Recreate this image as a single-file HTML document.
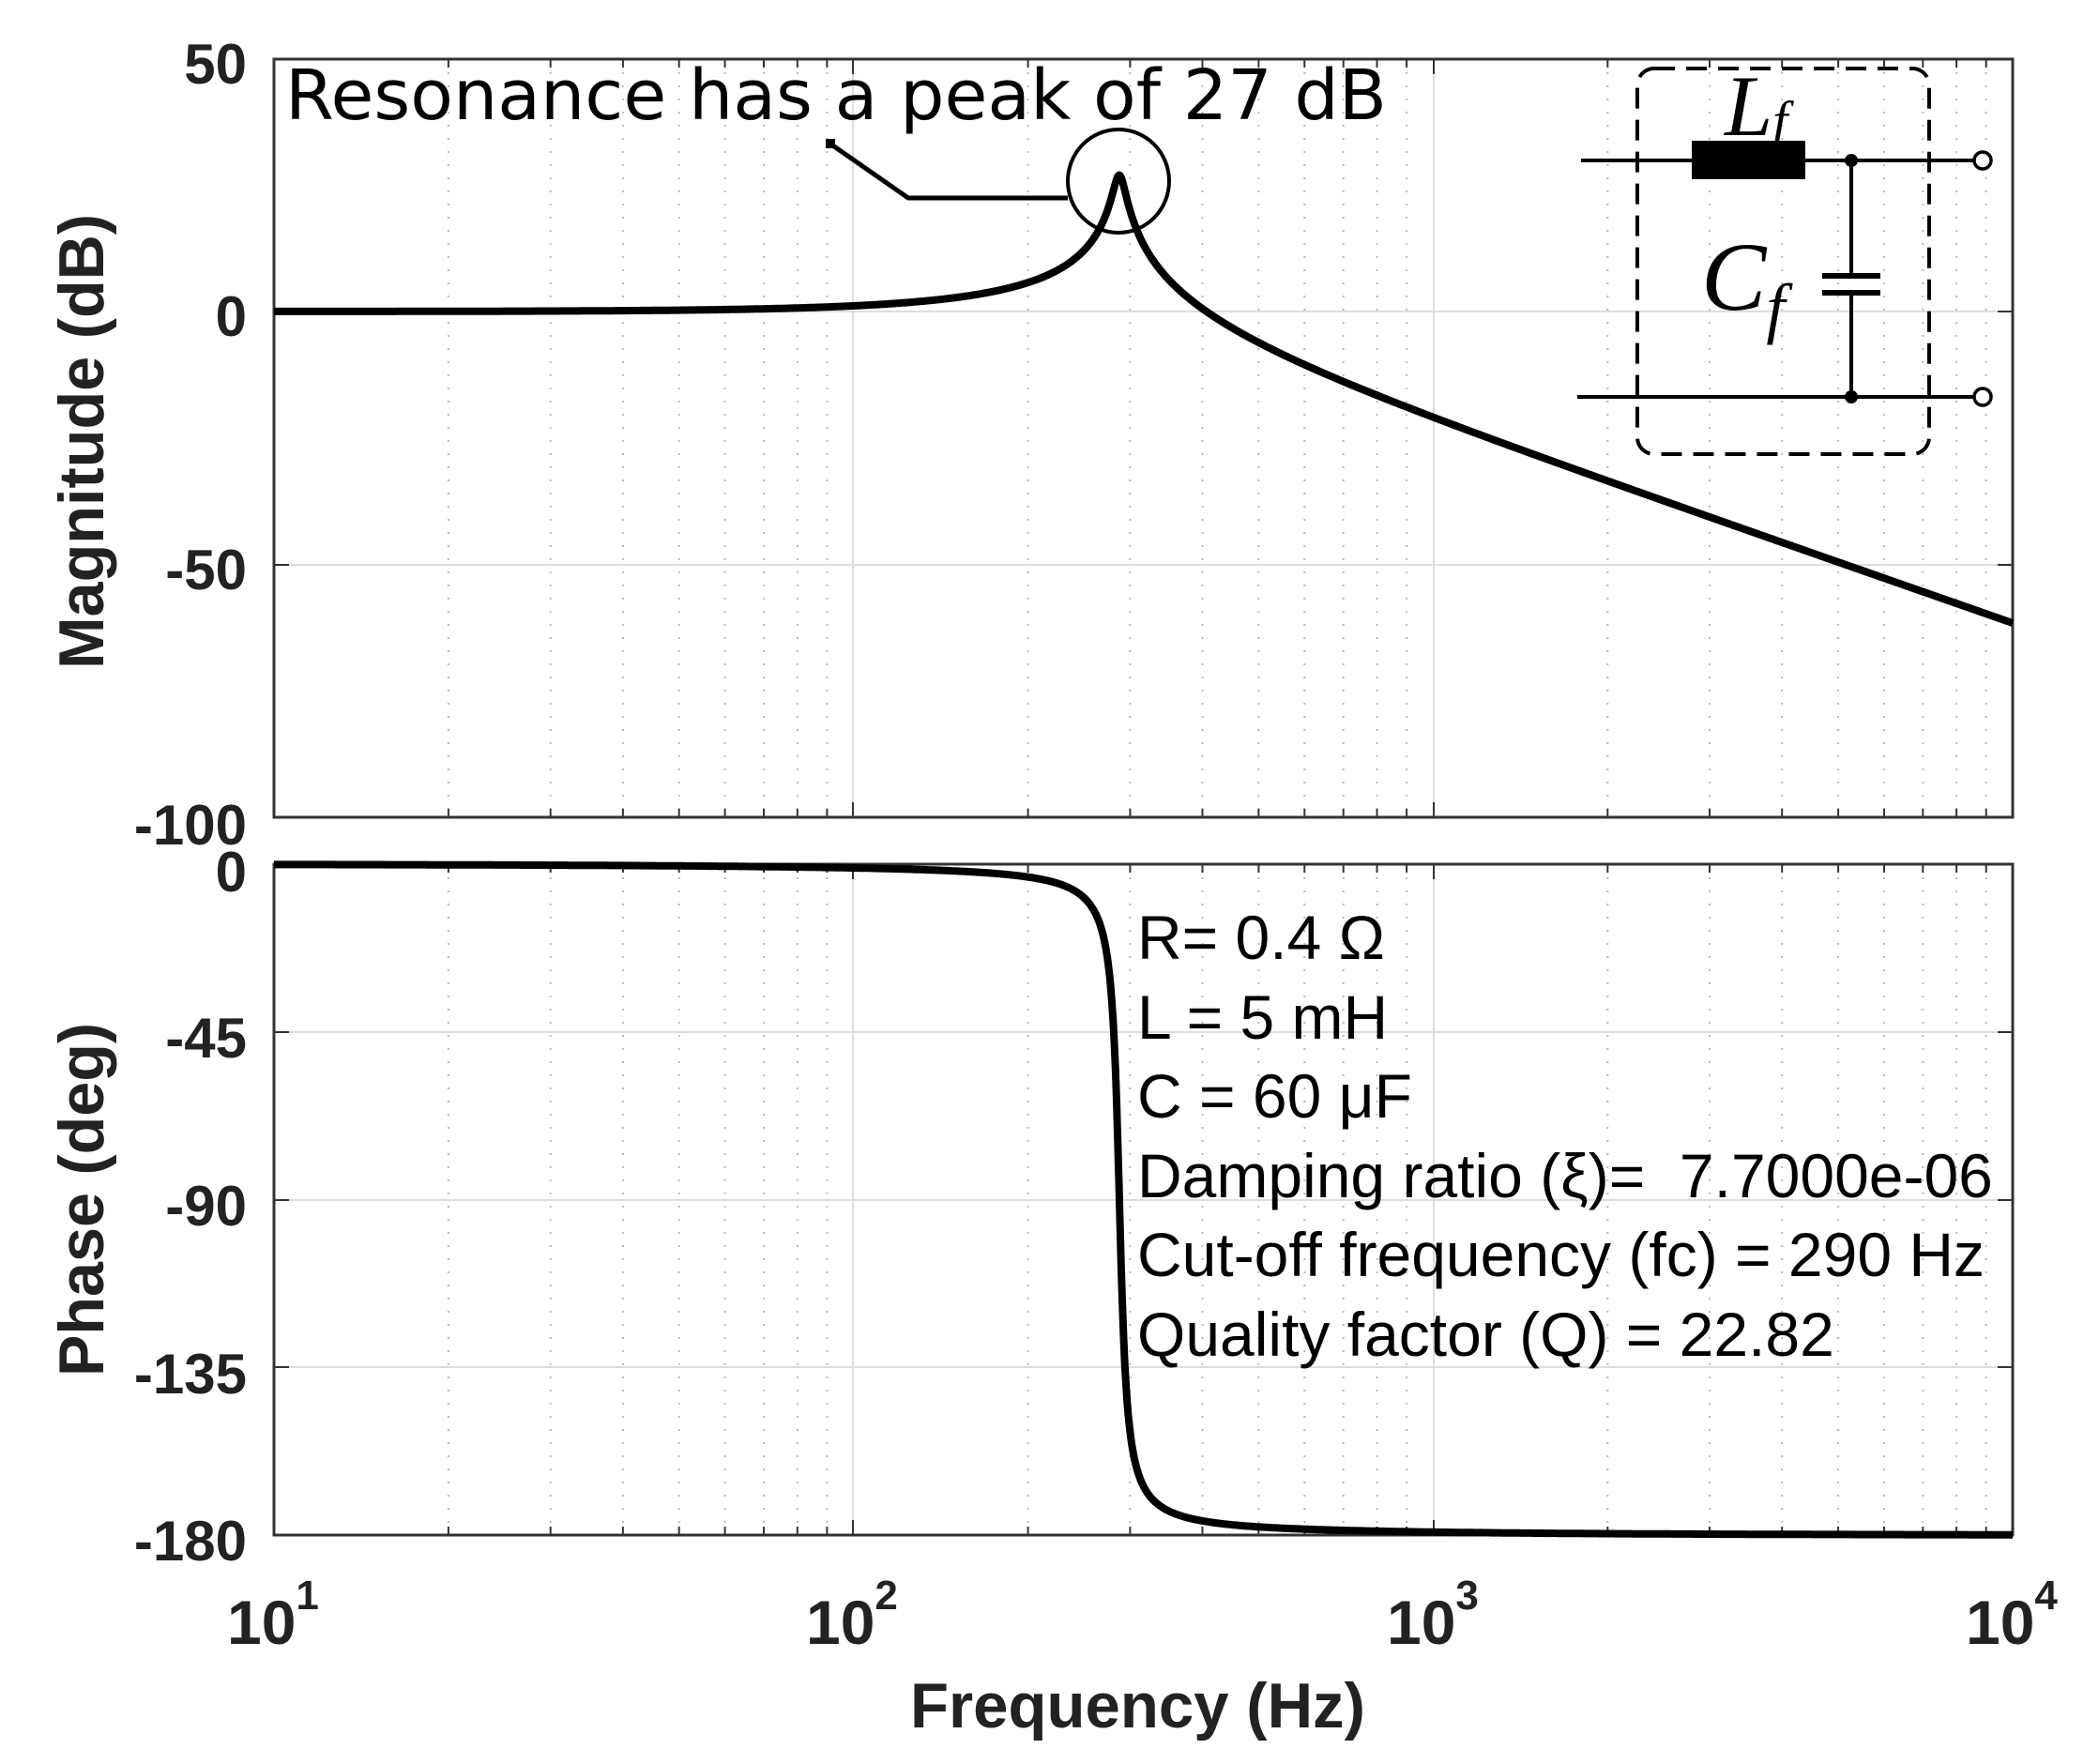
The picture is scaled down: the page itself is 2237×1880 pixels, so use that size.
<!DOCTYPE html>
<html><head><meta charset="utf-8"><style>
html,body{margin:0;padding:0;background:#fff;}
svg{display:block;}
.tk{font-family:"Liberation Sans",Arial,sans-serif;font-weight:bold;font-size:60px;fill:#222;}
.xt{font-family:"Liberation Sans",Arial,sans-serif;font-weight:bold;fill:#222;}
.info{font-family:"Liberation Sans",Arial,sans-serif;font-size:66px;fill:#000;}
</style></head><body>
<svg id="s" width="2237" height="1880" viewBox="0 0 2237 1880" xmlns="http://www.w3.org/2000/svg">
<rect width="2237" height="1880" fill="#fff"/>
<g id="grid"></g>
<rect x="292" y="63" width="1853" height="808" fill="none" stroke="#333" stroke-width="3"/>
<rect x="292" y="921" width="1853" height="715" fill="none" stroke="#333" stroke-width="3"/>
<path id="mag" fill="none" stroke="#000" stroke-width="8" stroke-linejoin="round"/>
<path id="ph" fill="none" stroke="#000" stroke-width="8" stroke-linejoin="round"/>

<text class="tk" x="263" y="89" text-anchor="end">50</text>
<text class="tk" x="263" y="358" text-anchor="end">0</text>
<text class="tk" x="263" y="628" text-anchor="end">-50</text>
<text class="tk" x="263" y="900" text-anchor="end">-100</text>
<text class="tk" x="263" y="950" text-anchor="end">0</text>
<text class="tk" x="263" y="1127" text-anchor="end">-45</text>
<text class="tk" x="263" y="1306" text-anchor="end">-90</text>
<text class="tk" x="263" y="1485" text-anchor="end">-135</text>
<text class="tk" x="263" y="1663" text-anchor="end">-180</text>

<g class="xt">
<text x="242" y="1752" font-size="66">10<tspan font-size="44" dy="-37">1</tspan></text>
<text x="859" y="1752" font-size="66">10<tspan font-size="44" dy="-37">2</tspan></text>
<text x="1478" y="1752" font-size="66">10<tspan font-size="44" dy="-37">3</tspan></text>
<text x="2095" y="1752" font-size="66">10<tspan font-size="44" dy="-37">4</tspan></text>
</g>
<text class="xt" x="970" y="1841" font-size="68" textLength="485" lengthAdjust="spacingAndGlyphs">Frequency  (Hz)</text>
<text class="xt" font-size="68" transform="translate(110,713) rotate(-90)" textLength="485" lengthAdjust="spacingAndGlyphs" fill="#333">Magnitude (dB)</text>
<text class="xt" font-size="68" transform="translate(110,1467) rotate(-90)" textLength="377" lengthAdjust="spacingAndGlyphs" fill="#333">Phase (deg)</text>

<text x="304" y="127" font-family="'DejaVu Sans',Verdana,sans-serif" font-size="74" textLength="1174" lengthAdjust="spacingAndGlyphs" fill="#000">Resonance has a peak of 27 dB</text>
<polyline points="886,154 968,211 1138,211" fill="none" stroke="#000" stroke-width="5"/>
<rect x="880" y="148" width="10" height="10" fill="#000"/>
<ellipse cx="1192" cy="193" rx="54" ry="55" fill="none" stroke="#000" stroke-width="4"/>

<rect x="1745" y="73" width="311" height="411" rx="18" fill="none" stroke="#000" stroke-width="4" stroke-dasharray="22,12"/>
<line x1="1685" y1="171" x2="2103" y2="171" stroke="#000" stroke-width="4"/>
<rect x="1803" y="150" width="121" height="41" fill="#000"/>
<circle cx="1973" cy="171" r="7" fill="#000"/>
<circle cx="2113" cy="171" r="9" fill="#fff" stroke="#000" stroke-width="3.5"/>
<line x1="1973" y1="171" x2="1973" y2="294" stroke="#000" stroke-width="4"/>
<line x1="1973" y1="312" x2="1973" y2="423" stroke="#000" stroke-width="4"/>
<line x1="1942" y1="294" x2="2004" y2="294" stroke="#000" stroke-width="6"/>
<line x1="1942" y1="312" x2="2004" y2="312" stroke="#000" stroke-width="6"/>
<line x1="1681" y1="423" x2="2103" y2="423" stroke="#000" stroke-width="4"/>
<circle cx="1973" cy="423" r="7" fill="#000"/>
<circle cx="2113" cy="423" r="9" fill="#fff" stroke="#000" stroke-width="3.5"/>
<text x="1838" y="144" font-family="'Liberation Serif',serif" font-style="italic" font-size="92">L<tspan font-size="58" dy="4">f</tspan></text>
<text x="1813" y="330" font-family="'Liberation Serif',serif" font-style="italic" font-size="104">C<tspan font-size="72" dy="22">f</tspan></text>

<text class="info" x="1212" y="1022">R= 0.4 Ω</text>
<text class="info" x="1212" y="1107">L = 5 mH</text>
<text class="info" x="1212" y="1191">C = 60 μF</text>
<text class="info" x="1212" y="1276" xml:space="preserve">Damping ratio (ξ)=  7.7000e-06</text>
<text class="info" x="1212" y="1360">Cut-off frequency (fc) = 290 Hz</text>
<text class="info" x="1212" y="1445">Quality factor (Q) = 22.82</text>
</svg>
<script>
(function(){
var X0=292,X1=2145,D=(X1-X0)/3;
function fx(f){return X0+(Math.log10(f)-1)*D;}
var g=document.getElementById('grid'),h='';
var boxes=[[63,871],[921,1636]];
for(var d=1;d<=3;d++){for(var k=2;k<=9;k++){var x=fx(k*Math.pow(10,d)).toFixed(1);
 boxes.forEach(function(b){h+='<line x1="'+x+'" y1="'+b[0]+'" x2="'+x+'" y2="'+b[1]+'" stroke="#bbb" stroke-width="2" stroke-dasharray="2,12"/>';
 h+='<line x1="'+x+'" y1="'+b[0]+'" x2="'+x+'" y2="'+(b[0]+9)+'" stroke="#333" stroke-width="2"/>';
 h+='<line x1="'+x+'" y1="'+b[1]+'" x2="'+x+'" y2="'+(b[1]-9)+'" stroke="#333" stroke-width="2"/>';});}}
[909,1528].forEach(function(x){boxes.forEach(function(b){h+='<line x1="'+x+'" y1="'+b[0]+'" x2="'+x+'" y2="'+b[1]+'" stroke="#ddd" stroke-width="2"/>';
 h+='<line x1="'+x+'" y1="'+b[0]+'" x2="'+x+'" y2="'+(b[0]+16)+'" stroke="#333" stroke-width="2"/>';h+='<line x1="'+x+'" y1="'+b[1]+'" x2="'+x+'" y2="'+(b[1]-16)+'" stroke="#333" stroke-width="2"/>';});});
[332,602,1100,1279,1457].forEach(function(y){h+='<line x1="292" y1="'+y+'" x2="2145" y2="'+y+'" stroke="#ddd" stroke-width="2"/>';
 h+='<line x1="292" y1="'+y+'" x2="308" y2="'+y+'" stroke="#333" stroke-width="2"/><line x1="2129" y1="'+y+'" x2="2145" y2="'+y+'" stroke="#333" stroke-width="2"/>';});
g.innerHTML=h;
var fn=287.5,z=1/(2*22.4),m='',p='';
for(var i=0;i<=1500;i++){var lf=1+3*i/1500,f=Math.pow(10,lf),x=f/fn;
 var re=1-x*x,im=2*z*x,db=-10*Math.log10(re*re+im*im);
 var ph=-Math.atan2(im,re)*180/Math.PI;
 var px=(X0+(lf-1)*D).toFixed(1);
 var my=(332-db*269.3/50).toFixed(1),py=(921-ph*715/180).toFixed(1);
 m+=(i?'L':'M')+px+','+my;p+=(i?'L':'M')+px+','+py;}
document.getElementById('mag').setAttribute('d',m);
document.getElementById('ph').setAttribute('d',p);
})();
</script>
</body></html>
